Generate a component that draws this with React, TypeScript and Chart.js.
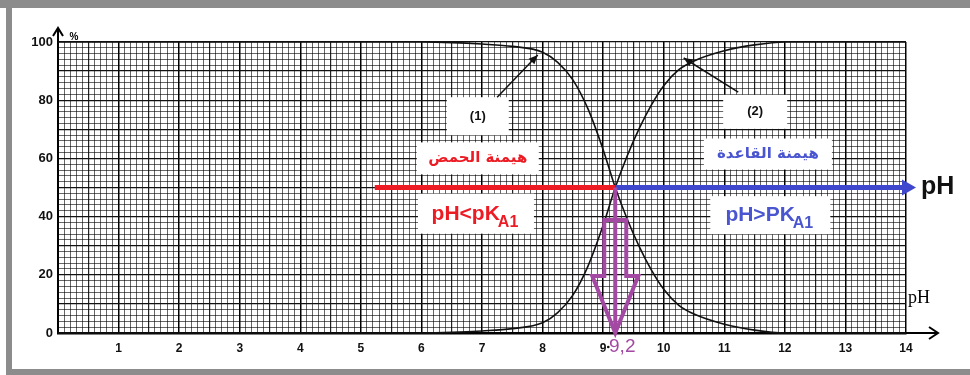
import React, { useEffect, useRef } from 'react';
import { Chart, registerables } from 'chart.js';

Chart.register(...registerables);

// ---- data ----
const PH = [0, 1, 2, 3, 4, 5, 6, 6.5, 7, 7.5, 8, 8.25, 8.5, 8.75, 9, 9.2, 9.4, 9.6, 9.8, 10, 10.25, 10.5, 11, 11.5, 12, 13, 14];
const ACID = [100, 100, 100, 100, 100, 100, 100, 99.8, 99.3, 98.5, 96.5, 93, 87, 77, 63, 50, 39, 29.5, 21.5, 15, 9.5, 6.5, 3, 1, 0, 0, 0];
const BASE = [0, 0, 0, 0, 0, 0, 0, 0.2, 0.7, 1.5, 3.5, 7, 13, 23, 37, 50, 61, 70.5, 78.5, 85, 90.5, 93.5, 97, 99, 100, 100, 100];
const X_LABELS = ['1', '2', '3', '4', '5', '6', '7', '8', '9', '10', '11', '12', '13', '14'];
const Y_LABELS = ['0', '20', '40', '60', '80', '100'];
const PKA = 9.2;
const PKA_TEXT = '9,2';
const CURVE1_LABEL = '(1)';
const CURVE2_LABEL = '(2)';
const ACID_TEXT = 'هيمنة الحمض';
const BASE_TEXT = 'هيمنة القاعدة';
const Y_UNIT = '%';
const X_UNIT = 'pH';

const RED = '#ed1c24';
const BLUE = '#3f48cc';
const PURPLE = '#a349a4';
const SANS = "'Liberation Sans', Arial, sans-serif";

const near = (v: number, step: number) => Math.abs(v / step - Math.round(v / step)) < 1e-6;

function arrowHead(ctx: CanvasRenderingContext2D, x1: number, y1: number, x2: number, y2: number, len: number, wid: number, color: string) {
  const a = Math.atan2(y2 - y1, x2 - x1);
  ctx.save();
  ctx.fillStyle = color;
  ctx.beginPath();
  ctx.moveTo(x2, y2);
  ctx.lineTo(x2 - len * Math.cos(a) + wid * Math.sin(a), y2 - len * Math.sin(a) - wid * Math.cos(a));
  ctx.lineTo(x2 - len * Math.cos(a) - wid * Math.sin(a), y2 - len * Math.sin(a) + wid * Math.cos(a));
  ctx.closePath();
  ctx.fill();
  ctx.restore();
}

function subText(ctx: CanvasRenderingContext2D, main: string, sub: string, cx: number, cy: number, color: string) {
  ctx.save();
  ctx.fillStyle = color;
  ctx.textBaseline = 'alphabetic';
  ctx.textAlign = 'left';
  const f1 = `bold 21px ${SANS}`;
  const f2 = `bold 16px ${SANS}`;
  ctx.font = f1;
  const w1 = ctx.measureText(main).width;
  ctx.font = f2;
  const w2 = ctx.measureText(sub).width;
  const x0 = cx - (w1 + w2) / 2;
  ctx.font = f1;
  ctx.fillText(main, x0, cy + 6);
  ctx.font = f2;
  ctx.fillText(sub, x0 + w1 - 2, cy + 13);
  ctx.restore();
}

const overlay = {
  id: 'overlay',
  beforeDraw(chart: any) {
    const ctx = chart.ctx as CanvasRenderingContext2D;
    ctx.save();
    ctx.fillStyle = '#ffffff';
    ctx.fillRect(0, 0, chart.width, chart.height);
    ctx.fillStyle = '#8c8c8c';
    ctx.fillRect(0, 0, chart.width, 8);
    ctx.fillRect(6, 0, 6, chart.height);
    ctx.fillRect(6, chart.height - 6, chart.width, 6);
    ctx.restore();
  },
  afterDraw(chart: any) {
    const ctx = chart.ctx as CanvasRenderingContext2D;
    const xs = chart.scales.x;
    const ys = chart.scales.y;
    const px = (v: number) => xs.getPixelForValue(v);
    const py = (v: number) => ys.getPixelForValue(v);
    const { left: L, right: R, bottom: B, top: T } = chart.chartArea;

    ctx.save();
    // axis arrows
    ctx.strokeStyle = '#000';
    ctx.lineWidth = 2;
    ctx.beginPath();
    ctx.moveTo(L, T);
    ctx.lineTo(L, 28);
    ctx.stroke();
    ctx.beginPath();
    ctx.moveTo(L - 5, 36);
    ctx.lineTo(L, 28);
    ctx.lineTo(L + 5, 36);
    ctx.stroke();
    ctx.beginPath();
    ctx.moveTo(R, B);
    ctx.lineTo(938, B);
    ctx.stroke();
    ctx.beginPath();
    ctx.moveTo(929, B - 6);
    ctx.lineTo(938, B);
    ctx.lineTo(929, B + 6);
    ctx.stroke();

    ctx.fillStyle = '#000';
    ctx.font = `bold 10px ${SANS}`;
    ctx.textAlign = 'center';
    ctx.textBaseline = 'middle';
    ctx.fillText(Y_UNIT, L + 16, 37);
    ctx.font = "18px 'Liberation Serif', 'Times New Roman', serif";
    ctx.textAlign = 'left';
    ctx.fillText(X_UNIT, 908, B - 35);

    // white label boxes
    const box = (x: number, y: number, w: number, h: number) => {
      ctx.fillStyle = '#ffffff';
      ctx.fillRect(px(x) - w / 2, py(y) - h / 2, w, h);
    };
    box(6.93, 74.5, 62, 38);
    box(11.51, 76, 64, 34);
    box(6.93, 60, 122, 32);
    box(11.72, 61.5, 128, 31);
    box(6.9, 41, 116, 40);
    box(11.76, 40.5, 120, 38);

    ctx.textAlign = 'center';
    ctx.textBaseline = 'middle';
    ctx.fillStyle = '#111';
    ctx.font = `bold 13px ${SANS}`;
    ctx.fillText(CURVE1_LABEL, px(6.93), py(74.5));
    ctx.fillText(CURVE2_LABEL, px(11.51), py(76));

    ctx.font = "bold 15px 'DejaVu Sans', sans-serif";
    ctx.fillStyle = RED;
    ctx.fillText(ACID_TEXT, px(6.93), py(60));
    ctx.fillStyle = '#4a55d0';
    ctx.fillText(BASE_TEXT, px(11.72), py(61.5));

    subText(ctx, 'pH<pK', 'A1', px(6.9), py(41), RED);
    subText(ctx, 'pH>PK', 'A1', px(11.76), py(40.5), '#4a55d0');

    // pointer arrows to the curves
    ctx.strokeStyle = '#111';
    ctx.lineWidth = 1.5;
    const pointer = (x1: number, y1: number, x2: number, y2: number) => {
      ctx.beginPath();
      ctx.moveTo(px(x1), py(y1));
      ctx.lineTo(px(x2), py(y2));
      ctx.stroke();
      arrowHead(ctx, px(x1), py(y1), px(x2), py(y2), 9, 4, '#111');
    };
    pointer(7.25, 81, 7.92, 95.5);
    pointer(11.23, 82.8, 10.33, 94.5);

    // red / blue horizontal arrows
    const yc = py(50);
    const xk = px(PKA);
    ctx.lineWidth = 5;
    ctx.strokeStyle = RED;
    ctx.beginPath();
    ctx.moveTo(px(5.23), yc);
    ctx.lineTo(xk, yc);
    ctx.stroke();
    ctx.strokeStyle = BLUE;
    ctx.beginPath();
    ctx.moveTo(xk, yc);
    ctx.lineTo(905, yc);
    ctx.stroke();
    arrowHead(ctx, 890, yc, 916, yc, 14, 8, BLUE);

    ctx.fillStyle = '#111';
    ctx.font = `bold 25px ${SANS}`;
    ctx.textAlign = 'left';
    ctx.fillText(X_UNIT, 921, yc);

    // purple hollow arrow at pKa
    const tip = py(0);
    const headTop = tip - 57;
    const shaftTop = tip - 113;
    ctx.strokeStyle = PURPLE;
    ctx.lineWidth = 4;
    ctx.lineJoin = 'miter';
    ctx.beginPath();
    ctx.moveTo(xk, yc);
    ctx.lineTo(xk, tip);
    ctx.stroke();
    ctx.beginPath();
    ctx.moveTo(xk - 11, shaftTop);
    ctx.lineTo(xk - 11, headTop);
    ctx.lineTo(xk - 23, headTop);
    ctx.lineTo(xk, tip);
    ctx.lineTo(xk + 23, headTop);
    ctx.lineTo(xk + 11, headTop);
    ctx.lineTo(xk + 11, shaftTop);
    ctx.closePath();
    ctx.stroke();

    ctx.fillStyle = PURPLE;
    ctx.font = `19px ${SANS}`;
    ctx.textAlign = 'center';
    ctx.fillText(PKA_TEXT, xk + 7, B + 14);
    ctx.fillStyle = '#111';
    ctx.beginPath();
    ctx.arc(xk - 7, B + 14, 1.3, 0, Math.PI * 2);
    ctx.fill();
    ctx.restore();
  },
};

export default function App() {
  const ref = useRef<HTMLCanvasElement | null>(null);

  useEffect(() => {
    if (!ref.current) return;
    const chart = new Chart(ref.current, {
      type: 'line',
      data: {
        datasets: [
          {
            label: CURVE1_LABEL,
            data: PH.map((p, i) => ({ x: p, y: ACID[i] })),
            borderColor: '#111',
            borderWidth: 1.6,
            pointRadius: 0,
            cubicInterpolationMode: 'monotone',
            clip: false as any,
          },
          {
            label: CURVE2_LABEL,
            data: PH.map((p, i) => ({ x: p, y: BASE[i] })),
            borderColor: '#111',
            borderWidth: 1.6,
            pointRadius: 0,
            cubicInterpolationMode: 'monotone',
            clip: false as any,
          },
        ],
      },
      options: {
        animation: false,
        responsive: false,
        events: [],
        layout: { padding: { left: 8, top: 42, right: 64, bottom: 6 } },
        plugins: { legend: { display: false }, tooltip: { enabled: false } },
        scales: {
          x: {
            type: 'linear',
            min: 0,
            max: 14,
            afterFit: (s: any) => { s.height = 36; },
            border: { display: true, color: '#000', width: 2.5 },
            grid: {
              drawTicks: false,
              color: (c: any) => (near(c.tick.value, 1) ? '#000' : near(c.tick.value, 0.5) ? '#222' : 'rgba(0,0,0,0.6)'),
              lineWidth: (c: any) => (near(c.tick.value, 1) ? 1.5 : near(c.tick.value, 0.5) ? 1.2 : 1),
            },
            ticks: {
              stepSize: 0.1,
              autoSkip: false,
              maxRotation: 0,
              padding: 8,
              color: '#111',
              font: { family: SANS, size: 12, weight: 'bold' },
              callback: (v: any) => {
                const n = Number(v);
                if (!near(n, 1)) return '';
                const i = Math.round(n) - 1;
                return i >= 0 && i < X_LABELS.length ? X_LABELS[i] : '';
              },
            },
          },
          y: {
            type: 'linear',
            min: 0,
            max: 100,
            afterFit: (s: any) => { s.width = 50; },
            border: { display: true, color: '#000', width: 2 },
            grid: {
              drawTicks: false,
              color: (c: any) => (near(c.tick.value, 10) ? '#111' : 'rgba(0,0,0,0.6)'),
              lineWidth: (c: any) => (near(c.tick.value, 10) ? 1.3 : 1),
            },
            ticks: {
              stepSize: 2,
              autoSkip: false,
              padding: 5,
              color: '#111',
              font: { family: SANS, size: 13, weight: 'bold' },
              callback: (v: any) => {
                const n = Number(v);
                if (!near(n, 20)) return '';
                return Y_LABELS[Math.round(n / 20)] ?? '';
              },
            },
          },
        },
      },
      plugins: [overlay],
    });
    return () => chart.destroy();
  }, []);

  return (
    <div style={{ position: 'fixed', left: 0, top: 0, width: 970, height: 375 }}>
      <canvas ref={ref} width={970} height={375} style={{ display: 'block', width: 970, height: 375 }} />
    </div>
  );
}
